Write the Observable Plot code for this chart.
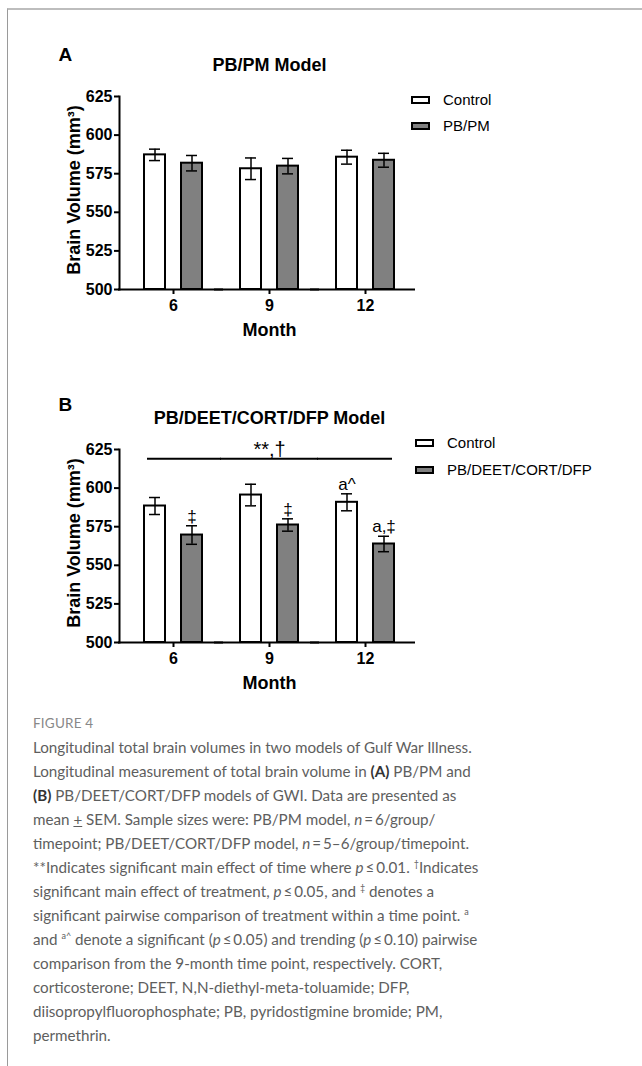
<!DOCTYPE html>
<html>
<head>
<meta charset="utf-8">
<script src="https://cdn.jsdelivr.net/npm/d3@7"></script>
<script src="https://cdn.jsdelivr.net/npm/@observablehq/plot@0.6"></script>
<style>
  html, body { margin: 0; padding: 0; background: #fff; }
  #page { position: relative; width: 642px; height: 1066px; overflow: hidden; }
  #border { position: absolute; left: 7px; top: 8px; right: -2px; bottom: -2px; border-top: 2px solid #bdbdbd; border-left: 1px solid #9a9a9a; }
  .panel { position: absolute; left: 0; }
  .legend { position: absolute; font-family: Arial, "Liberation Sans", sans-serif; font-size: 15px; color: #000; }
  .legend .row { position: absolute; left: 0; white-space: nowrap; height: 20px; line-height: 20px; }
  .legend .sw { position: absolute; left: 0; top: 6px; width: 15px; height: 4px; border: 2px solid #000; }
  .legend .lab { position: absolute; top: 0; }
  #caption { position: absolute; left: 33px; top: 711px; width: 600px; font-family: Lato, "Open Sans", sans-serif; color: #5e5e5e; font-size: 15.2px; line-height: 24px; }
  #caption .fig { font-size: 13.5px; color: #888; letter-spacing: 0.2px; }
  #caption b { color: #333; }
  #caption sup { font-size: 9px; line-height: 0; vertical-align: 6px; }
  #caption .pm { text-decoration: underline; }
</style>
</head>
<body>
<div id="page">
  <div id="border"></div>
</div>
<script>
// ---------- data ----------
const months = [6, 9, 12];
const yTicks = [500, 525, 550, 575, 600, 625];
const groupFills = ["#ffffff", "#808080"];

// Panel A: PB/PM model
const pbpmGroups = ["Control", "PB/PM"];
const pbpmControlMean = [587.2, 578.2, 585.7];
const pbpmControlSem = [3.7, 7.0, 4.5];
const pbpmTreatedMean = [581.8, 579.9, 583.7];
const pbpmTreatedSem = [5.0, 5.0, 4.5];

// Panel B: PB/DEET/CORT/DFP model
const gwiGroups = ["Control", "PB/DEET/CORT/DFP"];
const gwiControlMean = [588.4, 595.5, 590.8];
const gwiControlSem = [5.5, 7.0, 5.5];
const gwiTreatedMean = [569.6, 576.1, 563.8];
const gwiTreatedSem = [6.0, 4.0, 5.0];
const gwiControlMarks = ["", "", "a^"];
const gwiTreatedMarks = ["‡", "‡", "a,‡"];
const gwiSigText = "**,†";
const gwiSigLevel = 619;

const axisFont = "Arial, 'Liberation Sans', sans-serif";

function buildRows(groups, cMean, cSem, tMean, tSem, cMarks, tMarks) {
  return months.flatMap((m, i) => [
    {month: m, group: groups[0], mean: cMean[i], lo: cMean[i] - cSem[i], hi: cMean[i] + cSem[i], note: cMarks ? cMarks[i] : ""},
    {month: m, group: groups[1], mean: tMean[i], lo: tMean[i] - tSem[i], hi: tMean[i] + tSem[i], note: tMarks ? tMarks[i] : ""}
  ]);
}

function panel({letter, letterDy, title, groups, rows, sig, top, legendTop}) {
  const marks = [
    Plot.barY(rows, {fx: "month", x: "group", y1: yTicks[0], y2: "mean", fill: "group", stroke: "#000", strokeWidth: 2}),
    Plot.ruleX(rows, {fx: "month", x: "group", y1: "lo", y2: "hi", stroke: "#000", strokeWidth: 1.5}),
    Plot.tickY(rows, {fx: "month", x: "group", y: "hi", stroke: "#000", strokeWidth: 1.5, insetLeft: 5, insetRight: 5}),
    Plot.tickY(rows, {fx: "month", x: "group", y: "lo", stroke: "#000", strokeWidth: 1.5, insetLeft: 5, insetRight: 5}),
    Plot.ruleY([yTicks[0]], {stroke: "#000", strokeWidth: 2, insetLeft: -7, insetRight: -2}),
    Plot.frame({anchor: "left", facetAnchor: "left", dx: -6, stroke: "#000", strokeWidth: 2}),
    Plot.axisY({ticks: yTicks, tickSize: 5, tickPadding: 2, dx: -6, label: null, fontSize: 16, fontWeight: "bold", strokeWidth: 2}),
    Plot.axisFx({anchor: "bottom", tickSize: 5, tickPadding: 5, label: null, fontSize: 16, fontWeight: "bold", strokeWidth: 2}),
    Plot.text([{month: months[1], t: "Month"}], {fx: "month", text: "t", frameAnchor: "bottom", dy: 41, fontSize: 18, fontWeight: "bold", lineAnchor: "middle"}),
    Plot.text([{month: months[1], t: title}], {fx: "month", text: "t", frameAnchor: "top", dy: -31, fontSize: 18, fontWeight: "bold", lineAnchor: "middle"}),
    Plot.text([{month: months[0], t: letter}], {fx: "month", text: "t", frameAnchor: "top-left", dx: -67, dy: letterDy, fontSize: 19, fontWeight: "bold", lineAnchor: "middle", textAnchor: "start"}),
    Plot.text([{month: months[0], t: "Brain Volume (mm³)"}], {fx: "month", text: "t", frameAnchor: "left", rotate: -90, dx: -51, dy: -3, fontSize: 18, fontWeight: "bold", lineAnchor: "middle", textAnchor: "middle"}),
    Plot.text(rows.filter(d => d.note), {fx: "month", x: "group", y: "hi", text: "note", dy: -4, lineAnchor: "bottom", fontSize: 17, fontWeight: "normal"})
  ];
  if (sig) {
    marks.push(
      Plot.ruleY([{month: months[0], y: sig.level}], {fx: "month", y: "y", insetLeft: 22, stroke: "#000", strokeWidth: 2}),
      Plot.ruleY([{month: months[1], y: sig.level}], {fx: "month", y: "y", insetLeft: -1, insetRight: -1, stroke: "#000", strokeWidth: 2}),
      Plot.ruleY([{month: months[2], y: sig.level}], {fx: "month", y: "y", insetRight: 21, stroke: "#000", strokeWidth: 2}),
      Plot.text([{month: months[1], y: sig.level, t: sig.text}], {fx: "month", y: "y", text: "t", dy: -3, lineAnchor: "bottom", fontSize: 20, fontWeight: "normal"})
    );
  }
  const chart = Plot.plot({
    width: 642, height: 345,
    marginLeft: 125, marginRight: 229, marginTop: 96, marginBottom: 56,
    style: {fontFamily: axisFont, fontSize: "16px", fontWeight: "bold", color: "#000", background: "transparent", overflow: "visible"},
    fx: {domain: months, padding: 0, axis: null},
    x: {domain: groups, paddingInner: 0.43, paddingOuter: 0.51, axis: null},
    y: {domain: [yTicks[0], yTicks[yTicks.length - 1]], axis: null},
    color: {domain: groups, range: groupFills},
    marks
  });
  const wrap = document.createElement("div");
  wrap.className = "panel";
  wrap.style.top = top + "px";
  wrap.appendChild(chart);
  document.getElementById("page").appendChild(wrap);

  // legend
  const leg = document.createElement("div");
  leg.className = "legend";
  leg.style.left = legendTop.x + "px";
  leg.style.top = legendTop.y + "px";
  groups.forEach((g, i) => {
    const row = document.createElement("div");
    row.className = "row";
    row.style.top = (i * legendTop.step) + "px";
    const sw = document.createElement("div");
    sw.className = "sw";
    sw.style.background = groupFills[i];
    const lab = document.createElement("div");
    lab.className = "lab";
    lab.style.left = legendTop.textDx + "px";
    lab.textContent = g;
    row.appendChild(sw); row.appendChild(lab);
    leg.appendChild(row);
  });
  document.getElementById("page").appendChild(leg);
}

panel({
  letter: "A", letterDy: -42, title: "PB/PM Model", groups: pbpmGroups,
  rows: buildRows(pbpmGroups, pbpmControlMean, pbpmControlSem, pbpmTreatedMean, pbpmTreatedSem),
  top: 0, legendTop: {x: 411, y: 90, step: 25.8, textDx: 32}
});
panel({
  letter: "B", letterDy: -45, title: "PB/DEET/CORT/DFP Model", groups: gwiGroups,
  rows: buildRows(gwiGroups, gwiControlMean, gwiControlSem, gwiTreatedMean, gwiTreatedSem, gwiControlMarks, gwiTreatedMarks),
  sig: {level: gwiSigLevel, text: gwiSigText},
  top: 353, legendTop: {x: 415, y: 433, step: 27, textDx: 32}
});

// caption
const cap = document.createElement("div");
cap.id = "caption";
cap.innerHTML = [
  '<div class="fig">FIGURE 4</div>',
  '<div>Longitudinal total brain volumes in two models of Gulf War Illness.</div>',
  '<div>Longitudinal measurement of total brain volume in <b>(A)</b> PB/PM and</div>',
  '<div><b>(B)</b> PB/DEET/CORT/DFP models of GWI. Data are presented as</div>',
  '<div>mean <span class="pm">+</span> SEM. Sample sizes were: PB/PM model, <i>n</i>&#8201;=&#8201;6/group/</div>',
  '<div>timepoint; PB/DEET/CORT/DFP model, <i>n</i>&#8201;=&#8201;5–6/group/timepoint.</div>',
  '<div>**Indicates significant main effect of time where <i>p</i>&#8201;≤&#8201;0.01. <sup>†</sup>Indicates</div>',
  '<div>significant main effect of treatment, <i>p</i>&#8201;≤&#8201;0.05, and <sup>‡</sup> denotes a</div>',
  '<div>significant pairwise comparison of treatment within a time point. <sup>a</sup></div>',
  '<div>and <sup>a^</sup> denote a significant (<i>p</i>&#8201;≤&#8201;0.05) and trending (<i>p</i>&#8201;≤&#8201;0.10) pairwise</div>',
  '<div>comparison from the 9-month time point, respectively. CORT,</div>',
  '<div>corticosterone; DEET, N,N-diethyl-meta-toluamide; DFP,</div>',
  '<div>diisopropylfluorophosphate; PB, pyridostigmine bromide; PM,</div>',
  '<div>permethrin.</div>'
].join("");
document.getElementById("page").appendChild(cap);
</script>
</body>
</html>
